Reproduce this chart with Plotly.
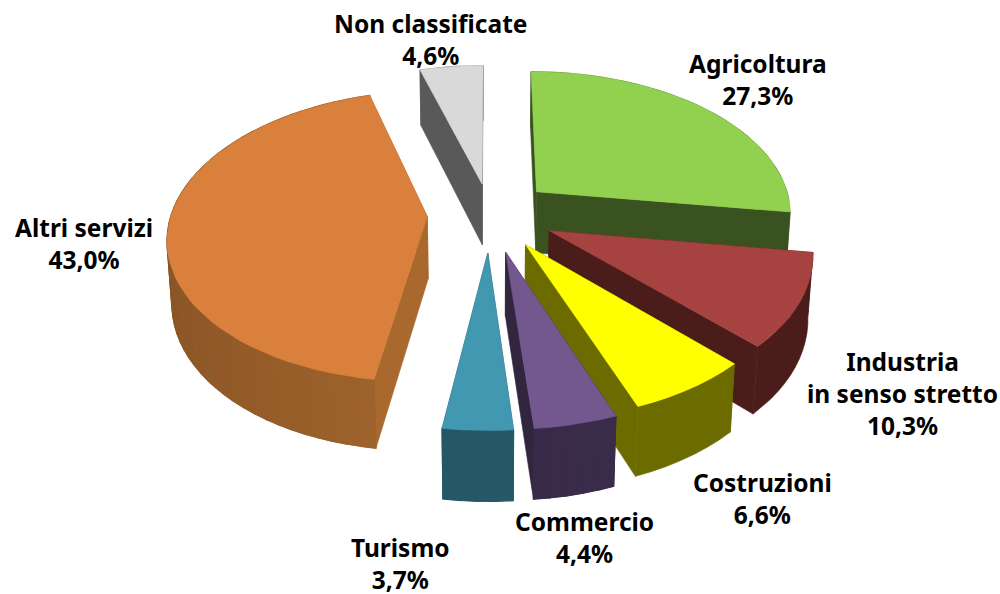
import math
import plotly.graph_objects as go

# Data
categories = ["Agricoltura", "Industria<br>in senso stretto", "Costruzioni", "Commercio", "Turismo", "Altri servizi", "Non classificate"]
values = [27.3, 10.3, 6.6, 4.4, 3.7, 43.0, 4.6]

# Style
top_colors = ["#92D050", "#A64340", "#FFFF00", "#73578F", "#4298B0", "#D9813C", "#D9D9D9"]
side_left = ["#3A5220", "#4A1C1A", "#6B6B00", "#3D2F50", "#285F70", "#B87433", "#595959"]
side_right = ["#3A5220", "#4A1C1A", "#6B6B00", "#32263F", "#22525F", "#8A5526", "#595959"]
radial_colors = ["#3A5220", "#4A1C1A", "#6B6B00", "#32263F", "#22525F", "#A9682E", "#595959"]
pulls = [0.245, 0.255, 0.25, 0.265, 0.265, 0.245, 0.22]
draw_order = [6, 0, 5, 1, 2, 4, 3]
label_pos = [(758, 79), (902, 393), (762, 498), (584, 537), (400, 563), (84, 243), (430, 39)]

# Projection
X0, Y0, S, T, P, H, Q = 490.0, 214.0, 256.0, 142.0, 0.135, 63.0, 0.015


def project(x, y, z):
    w = 1 - P * y + Q * z
    return X0 + S * x / w, Y0 + (T * y + H * z) / w


def poly(points, color, width=0.6):
    xs = [p[0] for p in points] + [points[0][0]]
    ys = [p[1] for p in points] + [points[0][1]]
    return go.Scatter(x=xs, y=ys, mode="lines", fill="toself", fillcolor=color,
                      line=dict(color=color, width=width), hoverinfo="skip", showlegend=False)


def mix(c1, c2, t):
    a = [int(c1[i:i + 2], 16) for i in (1, 3, 5)]
    b = [int(c2[i:i + 2], 16) for i in (1, 3, 5)]
    return "#" + "".join(f"{round(a[i] + (b[i] - a[i]) * t):02x}" for i in range(3))


total = sum(values)
spans = []
acc = 0.0
for v in values:
    spans.append((acc / total * 2 * math.pi, (acc + v) / total * 2 * math.pi))
    acc += v

fig = go.Figure()
for i in draw_order:
    a0, a1 = spans[i]
    mid = (a0 + a1) / 2
    cx, cy = pulls[i] * math.sin(mid), -pulls[i] * math.cos(mid)
    n = max(4, int((a1 - a0) / math.radians(3)))
    angs = [a0 + (a1 - a0) * k / n for k in range(n + 1)]
    rim = [(cx + math.sin(a), cy - math.cos(a)) for a in angs]
    # radial walls
    for edge in (rim[0], rim[-1]):
        fig.add_trace(poly([project(cx, cy, 0), project(*edge, 0), project(*edge, 1), project(cx, cy, 1)], radial_colors[i]))
    # outer wall: solid base, then gradient strips back to front
    base = [project(*p, 0) for p in rim] + [project(*p, 1) for p in reversed(rim)]
    fig.add_trace(poly(base, mix(side_left[i], side_right[i], 0.5)))
    if side_left[i] != side_right[i]:
        for k in sorted(range(n), key=lambda k: rim[k][1] + rim[k + 1][1]):
            t = (math.sin(angs[k]) + 1) / 2
            col = mix(side_right[i], side_left[i], t)
            fig.add_trace(poly([project(*rim[k], 0), project(*rim[k + 1], 0), project(*rim[k + 1], 1), project(*rim[k], 1)], col, 1.2))
    # top
    fig.add_trace(poly([project(cx, cy, 0)] + [project(*p, 0) for p in rim], top_colors[i]))

for cat, val, (lx, ly) in zip(categories, values, label_pos):
    fig.add_annotation(x=lx, y=ly, xref="x", yref="y", showarrow=False,
                       text=f"<b>{cat}<br>{val:.1f}%</b>".replace(".", ","), align="center",
                       font=dict(family="Noto Sans", size=24.5, color="black"), xanchor="center", yanchor="middle")

fig.update_layout(width=1000, height=594, margin=dict(l=0, r=0, t=0, b=0), paper_bgcolor="white",
                  plot_bgcolor="white", showlegend=False,
                  xaxis=dict(range=[0, 1000], visible=False, fixedrange=True),
                  yaxis=dict(range=[594, 0], visible=False, fixedrange=True))
fig.write_html("out.html", config={"displayModeBar": False},
               post_script="document.body.style.margin='0';document.documentElement.style.overflow='hidden';")
